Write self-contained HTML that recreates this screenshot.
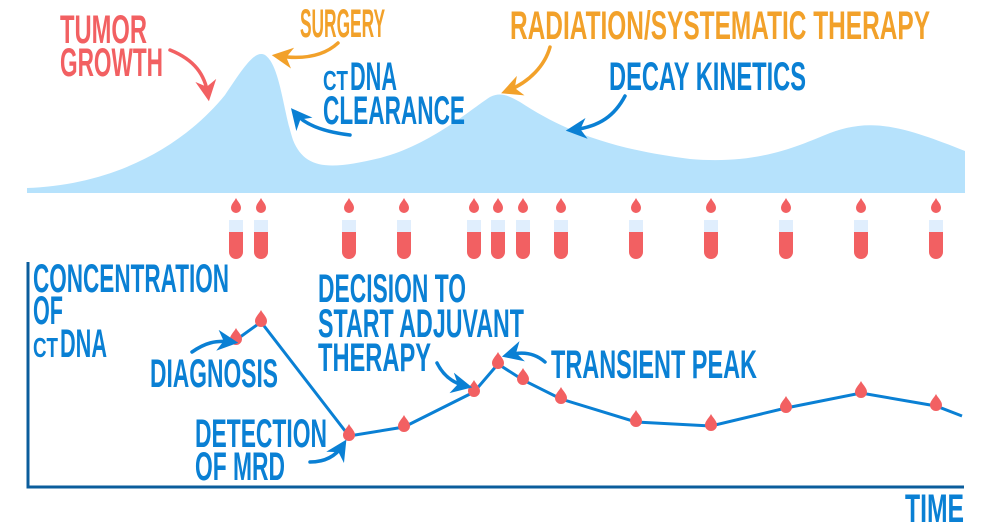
<!DOCTYPE html>
<html><head><meta charset="utf-8"><style>
html,body{margin:0;padding:0;background:#fff;width:1000px;height:527px;overflow:hidden}
text{font-family:"Liberation Sans Narrow","Liberation Sans",sans-serif;font-weight:bold}
</style></head><body>
<svg width="1000" height="527" viewBox="0 0 1000 527" xmlns="http://www.w3.org/2000/svg">
<defs>
<g id="tube">
<path d="M0,-14 C2,-10 5,-8 5,-4 A5,5 0 0 1 -5,-4 C-5,-8 -2,-10 0,-14 Z" fill="#f26062"/>
<rect x="-7" y="8" width="14" height="12" fill="#e0eefd"/>
<path d="M-7,20 H7 V40 A7,7 0 0 1 -7,40 Z" fill="#f26062"/>
</g>
<g id="drop"><path d="M0,-12 C2,-8 6,-5 6,-1 A6,6 0 0 1 -6,-1 C-6,-5 -2,-8 0,-12 Z" fill="#f26062"/></g>
<marker id="ab" viewBox="0 0 10 10" refX="7" refY="5" markerWidth="6" markerHeight="6" orient="auto"><path d="M0,0 L10,5 L0,10 L3,5 Z" fill="#0a80d4"/></marker>
<marker id="ao" viewBox="0 0 10 10" refX="7" refY="5" markerWidth="6" markerHeight="6" orient="auto"><path d="M0,0 L10,5 L0,10 L3,5 Z" fill="#f2a12a"/></marker>
<marker id="ar" viewBox="0 0 10 10" refX="7" refY="5" markerWidth="6" markerHeight="6" orient="auto"><path d="M0,0 L10,5 L0,10 L3,5 Z" fill="#f26062"/></marker>
</defs>
<path d="M27,188 C110,185 180,150 225,95 C245,65 255,50 265,55 C280,65 283,110 293,140 C305,170 330,170 380,158 C430,145 470,110 490,97 C500,92 508,95 520,102 C570,135 620,150 690,159 C760,165 800,145 830,133 C870,118 900,125 965,151 L965,193 L27,193 Z" fill="#b6e2fc"/>
<g>
<use href="#tube" x="236" y="212"/><use href="#tube" x="261" y="212"/><use href="#tube" x="349" y="212"/><use href="#tube" x="404" y="212"/><use href="#tube" x="474" y="212"/><use href="#tube" x="498" y="212"/><use href="#tube" x="523" y="212"/><use href="#tube" x="561" y="212"/><use href="#tube" x="636" y="212"/><use href="#tube" x="711" y="212"/><use href="#tube" x="786" y="212"/><use href="#tube" x="861" y="212"/><use href="#tube" x="936" y="212"/>
</g>
<path d="M28,262 V487 H964" fill="none" stroke="#0b5d9c" stroke-width="3"/>
<polyline points="236,340 261,322 349,436 404,427 474,392 498,364 523,380 561,399 636,422 711,426 786,408 861,393 936,406 962,416" fill="none" stroke="#0a80d4" stroke-width="3"/>
<g>
<use href="#drop" x="236" y="340"/><use href="#drop" x="261" y="322"/><use href="#drop" x="349" y="436"/><use href="#drop" x="404" y="427"/><use href="#drop" x="474" y="392"/><use href="#drop" x="498" y="364"/><use href="#drop" x="523" y="380"/><use href="#drop" x="561" y="399"/><use href="#drop" x="636" y="422"/><use href="#drop" x="711" y="426"/><use href="#drop" x="786" y="408"/><use href="#drop" x="861" y="393"/><use href="#drop" x="936" y="406"/>
</g>
<g fill="none" stroke-width="3.5" stroke-linecap="round">
<path d="M170,50 C195,60 205,75 208,95" stroke="#f26062" marker-end="url(#ar)"/>
<path d="M338,43 C325,55 305,60 278,56" stroke="#f2a12a" marker-end="url(#ao)"/>
<path d="M550,47 C545,65 530,82 507,91" stroke="#f2a12a" marker-end="url(#ao)"/>
<path d="M350,135 C325,132 305,125 295,113" stroke="#0a80d4" marker-end="url(#ab)"/>
<path d="M625,96 C615,115 600,127 572,130" stroke="#0a80d4" marker-end="url(#ab)"/>
<path d="M192,352 C205,343 215,340 232,342" stroke="#0a80d4" marker-end="url(#ab)"/>
<path d="M310,462 C325,462 336,456 343,445" stroke="#0a80d4" marker-end="url(#ab)"/>
<path d="M437,363 C443,375 452,383 466,386" stroke="#0a80d4" marker-end="url(#ab)"/>
<path d="M545,362 C535,353 523,351 508,355" stroke="#0a80d4" marker-end="url(#ab)"/>
</g>
<g fill="#f26062" font-size="40">
<text x="60" y="43" textLength="87" lengthAdjust="spacingAndGlyphs">TUMOR</text>
<text x="60" y="76" textLength="103" lengthAdjust="spacingAndGlyphs">GROWTH</text>
</g>
<g fill="#f2a12a" font-size="40">
<text x="300" y="37" textLength="85" lengthAdjust="spacingAndGlyphs">SURGERY</text>
<text x="510" y="39" textLength="420" lengthAdjust="spacingAndGlyphs">RADIATION/SYSTEMATIC THERAPY</text>
</g>
<g fill="#0a80d4" font-size="40">
<text x="323" y="90" font-size="28" textLength="25" lengthAdjust="spacingAndGlyphs">CT</text>
<text x="350" y="90" textLength="47" lengthAdjust="spacingAndGlyphs">DNA</text>
<text x="323" y="124" textLength="142" lengthAdjust="spacingAndGlyphs">CLEARANCE</text>
<text x="609" y="90" textLength="197" lengthAdjust="spacingAndGlyphs">DECAY KINETICS</text>
<text x="33" y="292" textLength="196" lengthAdjust="spacingAndGlyphs">CONCENTRATION</text>
<text x="33" y="324" textLength="30" lengthAdjust="spacingAndGlyphs">OF</text>
<text x="33" y="357" font-size="28" textLength="25" lengthAdjust="spacingAndGlyphs">CT</text>
<text x="60" y="357" textLength="47" lengthAdjust="spacingAndGlyphs">DNA</text>
<text x="150" y="387" textLength="128" lengthAdjust="spacingAndGlyphs">DIAGNOSIS</text>
<text x="195" y="447" textLength="132" lengthAdjust="spacingAndGlyphs">DETECTION</text>
<text x="195" y="480" textLength="90" lengthAdjust="spacingAndGlyphs">OF MRD</text>
<text x="318" y="302" textLength="148" lengthAdjust="spacingAndGlyphs">DECISION TO</text>
<text x="318" y="337" textLength="206" lengthAdjust="spacingAndGlyphs">START ADJUVANT</text>
<text x="318" y="371" textLength="113" lengthAdjust="spacingAndGlyphs">THERAPY</text>
<text x="551" y="378" textLength="206" lengthAdjust="spacingAndGlyphs">TRANSIENT PEAK</text>
<text x="905" y="522" textLength="59" lengthAdjust="spacingAndGlyphs">TIME</text>
</g>
</svg>
</body></html>
